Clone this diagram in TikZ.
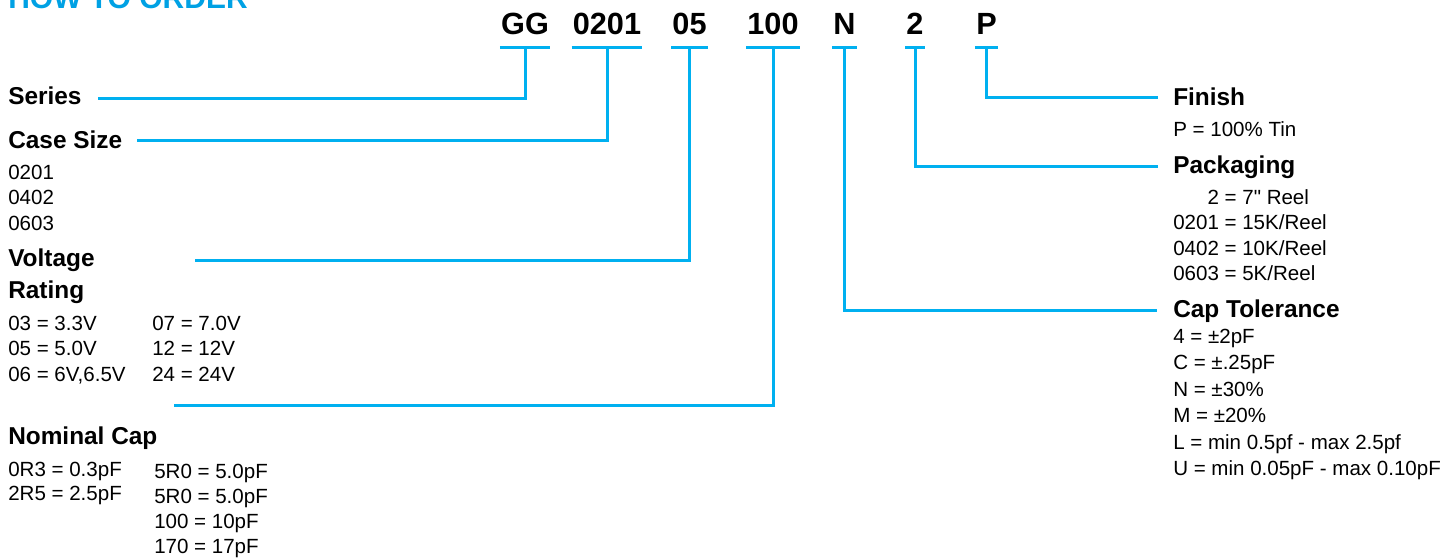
\documentclass[tikz,border=0pt]{standalone}
\usepackage{fontspec}
\setmainfont{Liberation Sans}
\definecolor{lineblue}{RGB}{0,176,240}
\definecolor{titleblue}{RGB}{0,161,228}
\newcommand{\straightquote}{\XeTeXglyph\XeTeXcharglyph"22\relax}
\begin{document}
\begin{tikzpicture}[x=0.75pt,y=-0.75pt,
  ln/.style={draw=lineblue, line width=2.25pt},
  code/.style={font=\fontsize{23}{25}\selectfont\bfseries, anchor=base, inner xsep=1pt, inner ysep=10.1pt, text depth=0pt, outer sep=0pt},
  head/.style={font=\fontsize{18.3}{20}\selectfont\bfseries, anchor=base west, inner sep=0pt},
  body/.style={font=\fontsize{15.4}{18}\selectfont, anchor=base west, inner sep=0pt},
  titlestyle/.style={font=\fontsize{22.5}{24}\selectfont\bfseries, text=titleblue, anchor=base west, inner sep=0pt}]
\useasboundingbox (0,0) rectangle (1447,558);
\clip (0,0) rectangle (1447,558);

% title
\node[titlestyle] (title) at (8,8) {HOW TO ORDER};

% part number
\node[code] (cGG) at (525,34) {GG};
\node[code] (c0201) at (607,34) {0201};
\node[code] (c05) at (689.5,34) {05};
\node[code] (c100) at (773,34) {100};
\node[code] (cN) at (844.5,34) {N};
\node[code] (c2) at (915,34) {2};
\node[code] (cP) at (986.5,34) {P};
\foreach \n in {cGG,c0201,c05,c100,cN,c2,cP}
  \draw[ln] (\n.south west) -- (\n.south east);

% left labels
\node[head] (series) at (8,104) {Series};
\node[head] (casesize) at (8,148) {Case Size};
\node[body] (cs1) at (8,179) {0201};
\node[body] (cs2) at (8,204.5) {0402};
\node[body] (cs3) at (8,230) {0603};
\node[head] (voltage) at (8,266) {Voltage};
\node[head] (rating) at (8,298) {Rating};
\node[body] (va1) at (8,330) {03 = 3.3V};
\node[body] (va2) at (8,355.5) {05 = 5.0V};
\node[body] (va3) at (8,381) {06 = 6V,6.5V};
\node[body] (vb1) at (152,330) {07 = 7.0V};
\node[body] (vb2) at (152,355.5) {12 = 12V};
\node[body] (vb3) at (152,381) {24 = 24V};
\node[head] (nominal) at (8,444) {Nominal Cap};
\node[body] (na1) at (8,476) {0R3 = 0.3pF};
\node[body] (na2) at (8,500.5) {2R5 = 2.5pF};
\node[body] (nb1) at (154,478) {5R0 = 5.0pF};
\node[body] (nb2) at (154,503) {5R0 = 5.0pF};
\node[body] (nb3) at (154,528) {100 = 10pF};
\node[body] (nb4) at (154,553) {170 = 17pF};

% right labels
\node[head] (finish) at (1173,105) {Finish};
\node[body] (fi1) at (1173,136) {P = 100\% Tin};
\node[head] (packaging) at (1173,173) {Packaging};
\node[body] (pk1) at (1173,204) {\phantom{020}2 = 7\straightquote{} Reel};
\node[body] (pk2) at (1173,229.5) {0201 = 15K/Reel};
\node[body] (pk3) at (1173,255) {0402 = 10K/Reel};
\node[body] (pk4) at (1173,280.5) {0603 = 5K/Reel};
\node[head] (captol) at (1173,317) {Cap Tolerance};
\node[body] (ct1) at (1173,343) {4 = ±2pF};
\node[body] (ct2) at (1173,369.5) {C = ±.25pF};
\node[body] (ct3) at (1173,396) {N = ±30\%};
\node[body] (ct4) at (1173,422.5) {M = ±20\%};
\node[body] (ct5) at (1173,449) {L = min 0.5pf - max 2.5pf};
\node[body] (ct6) at (1173,475.5) {U = min 0.05pF - max 0.10pF};

% connector ends
\coordinate (eSeries) at (98,98);
\coordinate (eCase) at (137,140);
\coordinate (eVolt) at (195,260);
\coordinate (eNom) at (174,405.5);
\coordinate (eTol) at (1157,310);
\coordinate (ePack) at (1158,166);
\coordinate (eFin) at (1158,97);

% connectors
\draw[ln] (cGG.south) |- (eSeries);
\draw[ln] (c0201.south) |- (eCase);
\draw[ln] (c05.south) |- (eVolt);
\draw[ln] (c100.south) |- (eNom);
\draw[ln] (cN.south) |- (eTol);
\draw[ln] (c2.south) |- (ePack);
\draw[ln] (cP.south) |- (eFin);
\end{tikzpicture}
\end{document}
